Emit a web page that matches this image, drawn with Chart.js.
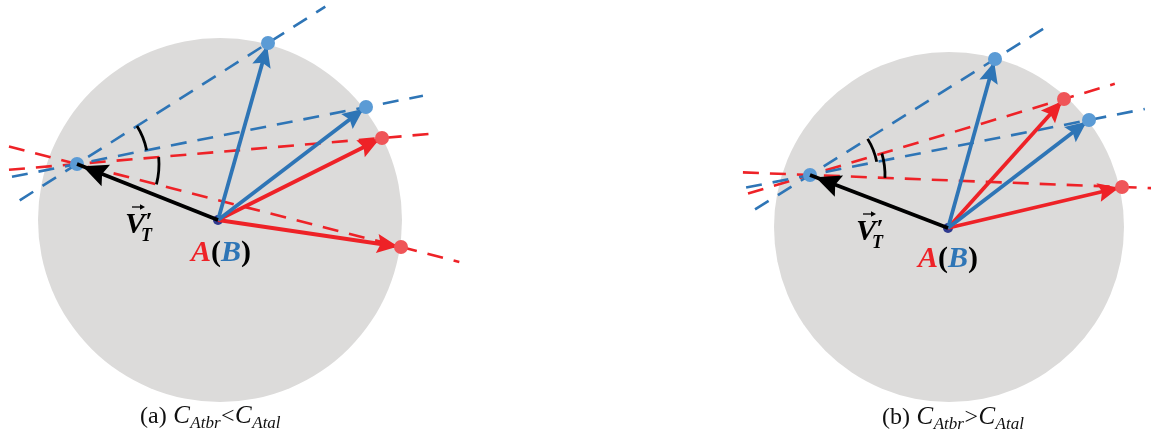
<!DOCTYPE html>
<html>
<head>
<meta charset="utf-8">
<script src="https://cdn.jsdelivr.net/npm/chart.js@4/dist/chart.umd.min.js"></script>
<style>
html,body{margin:0;padding:0;background:#ffffff;overflow:hidden}
#wrap{width:1151px;height:440px;position:relative}
</style>
</head>
<body>
<div id="wrap"><canvas id="c" width="1151" height="440"></canvas></div>
<script>
// ---------------- data ----------------
const panelTags = ['(a)', '(b)'];
const captionRel = ['<', '>'];
// point order: O (A/B origin), VT (tip of V'_T), B1, B2 (blue), A1, A2 (red)
const pointNames = ['O', 'VT', 'B1', 'B2', 'A1', 'A2'];
const panelA_x = [218, 77, 268, 366, 382, 401];
const panelA_y = [220, 164, 43, 107, 138, 247];
const panelB_x = [948, 810, 995, 1089, 1064, 1122];
const panelB_y = [228, 175, 59, 120, 99, 187];
// gray disc of each panel
const circleX = [220, 949];
const circleY = [220, 227];
const circleR = [182, 175];
// dashed guide lines through VT and each end point: extension factors (back, forward)
const rayNames = ['B1', 'B2', 'A1', 'A2'];
const dashBackA = [-0.30, -0.225, -0.223, -0.21];
const dashFwdA = [1.30, 1.197, 1.18, 1.18];
const dashBackB = [-0.297, -0.229, -0.244, -0.215];
const dashFwdB = [1.30, 1.20, 1.20, 1.20];
// angle-mark radii (blue pair, red pair)
const arcBlueR = [71, 68];
const arcRedR = [82, 75];
// label anchors
const vLabelX = [125, 856];
const vLabelY = [233, 240];
const abLabelX = [221, 948];
const abLabelY = [261, 267];
const captionX = [140, 882];
const captionY = [423, 424];

// ---------------- styles ----------------
const BLUE = '#2E75B6';
const BLUE_DOT = '#5B9BD5';
const RED = '#EE2227';
const RED_DOT = '#EF5558';
const GRAY = '#DCDBDA';
const NAVY = '#2F3A8F';
const SERIF = '"Liberation Serif", "Times New Roman", serif';

const panelsX = [panelA_x, panelB_x];
const panelsY = [panelA_y, panelB_y];
const dashBack = [dashBackA, dashBackB];
const dashFwd = [dashFwdA, dashFwdB];

function pt(p, name) {
  const i = pointNames.indexOf(name);
  return { x: panelsX[p][i], y: panelsY[p][i] };
}

const datasets = [];
for (let p = 0; p < 2; p++) {
  // disc
  datasets.push({
    type: 'bubble',
    data: [{ x: circleX[p], y: circleY[p], r: circleR[p] }],
    backgroundColor: GRAY, borderWidth: 0, hoverRadius: 0, order: 100, clip: false
  });
  const vt = pt(p, 'VT');
  const o = pt(p, 'O');
  // dashed guide lines
  rayNames.forEach((n, k) => {
    const q = pt(p, n);
    const dx = q.x - vt.x, dy = q.y - vt.y;
    const col = n[0] === 'B' ? BLUE : RED;
    datasets.push({
      type: 'scatter', showLine: true,
      data: [
        { x: vt.x + dashBack[p][k] * dx, y: vt.y + dashBack[p][k] * dy },
        { x: vt.x + dashFwd[p][k] * dx, y: vt.y + dashFwd[p][k] * dy }
      ],
      borderColor: col, borderWidth: 2.6, borderDash: [16, 11], pointRadius: 0,
      order: 60, isGuide: true
    });
  });
  // centre dot
  datasets.push({
    type: 'scatter', data: [o], pointRadius: 5, pointBackgroundColor: NAVY,
    pointBorderWidth: 0, order: 45
  });
  // arrows
  rayNames.forEach((n) => {
    const q = pt(p, n);
    const col = n[0] === 'B' ? BLUE : RED;
    datasets.push({
      type: 'scatter', showLine: true, data: [o, q],
      borderColor: col, borderWidth: 3.8, pointRadius: 0, order: 30,
      arrowHead: { len: 21, half: 9.5, offset: 3, notch: 3.5, color: col }
    });
  });
  datasets.push({
    type: 'scatter', showLine: true, data: [o, vt],
    borderColor: '#000000', borderWidth: 3.8, pointRadius: 0, order: 25,
    arrowHead: { len: 25, half: 11.5, offset: 6, notch: 4, color: '#000000' }
  });
  // end-point dots
  rayNames.forEach((n) => {
    const q = pt(p, n);
    datasets.push({
      type: 'scatter', data: [q], pointRadius: 7,
      pointBackgroundColor: n[0] === 'B' ? BLUE_DOT : RED_DOT, pointBorderWidth: 0, order: 10
    });
  });
  datasets.push({
    type: 'scatter', data: [vt], pointRadius: 7,
    pointBackgroundColor: BLUE_DOT, pointBorderWidth: 0, order: 28
  });
}

function drawHead(ctx, x0, y0, x1, y1, h) {
  const L = Math.hypot(x1 - x0, y1 - y0);
  const ux = (x1 - x0) / L, uy = (y1 - y0) / L;
  const nx = -uy, ny = ux;
  const tx = x1 - h.offset * ux, ty = y1 - h.offset * uy;
  const bx = tx - h.len * ux, by = ty - h.len * uy;
  const mx = tx - (h.len - h.notch) * ux, my = ty - (h.len - h.notch) * uy;
  ctx.save();
  ctx.fillStyle = h.color;
  ctx.beginPath();
  ctx.moveTo(tx, ty);
  ctx.lineTo(bx + h.half * nx, by + h.half * ny);
  ctx.lineTo(mx, my);
  ctx.lineTo(bx - h.half * nx, by - h.half * ny);
  ctx.closePath();
  ctx.fill();
  ctx.restore();
}

function drawCaption(ctx, x, y, tag, rel) {
  const parts = [
    { t: tag + ' ', s: '', z: 24, dy: 0 },
    { t: 'C', s: 'italic ', z: 25, dy: 0 },
    { t: 'Atbr', s: 'italic ', z: 17, dy: 5 },
    { t: rel, s: '', z: 24, dy: 0 },
    { t: 'C', s: 'italic ', z: 25, dy: 0 },
    { t: 'Atal', s: 'italic ', z: 17, dy: 5 }
  ];
  ctx.save();
  ctx.fillStyle = '#111';
  ctx.textBaseline = 'alphabetic';
  ctx.textAlign = 'left';
  let cx = x;
  parts.forEach((pp) => {
    ctx.font = pp.s + pp.z + 'px ' + SERIF;
    ctx.fillText(pp.t, cx, y + pp.dy);
    cx += ctx.measureText(pp.t).width + 0.5;
  });
  ctx.restore();
}

function drawVLabel(ctx, x, y) {
  ctx.save();
  ctx.fillStyle = '#000';
  ctx.textBaseline = 'alphabetic';
  ctx.textAlign = 'left';
  ctx.font = 'italic bold 30px ' + SERIF;
  ctx.fillText('V', x, y);
  const w = ctx.measureText('V').width;
  ctx.font = 'bold 26px ' + SERIF;
  ctx.fillText('\u2032', x + w + 0.5, y - 3);
  ctx.font = 'italic bold 18px ' + SERIF;
  ctx.fillText('T', x + w - 4, y + 8);
  // vector arrow
  ctx.strokeStyle = '#000';
  ctx.lineWidth = 1.3;
  ctx.beginPath();
  ctx.moveTo(x + 7, y - 26);
  ctx.lineTo(x + 17, y - 26);
  ctx.stroke();
  ctx.beginPath();
  ctx.moveTo(x + 20, y - 26);
  ctx.lineTo(x + 15, y - 28.7);
  ctx.lineTo(x + 15, y - 23.3);
  ctx.closePath();
  ctx.fill();
  ctx.restore();
}

function drawAB(ctx, cx, y) {
  const parts = [
    { t: 'A', s: 'italic bold ', c: RED },
    { t: '(', s: 'bold ', c: '#000' },
    { t: 'B', s: 'italic bold ', c: BLUE },
    { t: ')', s: 'bold ', c: '#000' }
  ];
  ctx.save();
  ctx.textBaseline = 'alphabetic';
  ctx.textAlign = 'left';
  let total = 0;
  parts.forEach((pp) => { ctx.font = pp.s + '30px ' + SERIF; pp.w = ctx.measureText(pp.t).width; total += pp.w; });
  let x = cx - total / 2;
  parts.forEach((pp) => {
    ctx.font = pp.s + '30px ' + SERIF;
    ctx.fillStyle = pp.c;
    ctx.fillText(pp.t, x, y);
    x += pp.w;
  });
  ctx.restore();
}

const decor = {
  id: 'decor',
  afterDatasetDraw(chart, args) {
    const ds = chart.data.datasets[args.index];
    if (!ds.arrowHead) return;
    const pts = args.meta.data;
    drawHead(chart.ctx, pts[0].x, pts[0].y, pts[1].x, pts[1].y, ds.arrowHead);
  },
  afterDatasetsDraw(chart) {
    const ctx = chart.ctx;
    const xs = chart.scales.x, ys = chart.scales.y;
    for (let p = 0; p < 2; p++) {
      const vt = pt(p, 'VT');
      const cx = xs.getPixelForValue(vt.x), cy = ys.getPixelForValue(vt.y);
      const ang = (n) => {
        const q = pt(p, n);
        return Math.atan2(ys.getPixelForValue(q.y) - cy, xs.getPixelForValue(q.x) - cx);
      };
      ctx.save();
      ctx.strokeStyle = '#000';
      ctx.lineWidth = 2.8;
      ctx.beginPath();
      ctx.arc(cx, cy, arcBlueR[p], ang('B1'), ang('B2'), false);
      ctx.stroke();
      ctx.beginPath();
      ctx.arc(cx, cy, arcRedR[p], ang('A1'), ang('A2'), false);
      ctx.stroke();
      ctx.restore();
    }
  },
  afterDraw(chart) {
    const ctx = chart.ctx;
    for (let p = 0; p < 2; p++) {
      drawVLabel(ctx, vLabelX[p], vLabelY[p]);
      drawAB(ctx, abLabelX[p], abLabelY[p]);
      drawCaption(ctx, captionX[p], captionY[p], panelTags[p], captionRel[p]);
    }
  }
};

new Chart(document.getElementById('c'), {
  type: 'scatter',
  data: { datasets },
  options: {
    responsive: false,
    devicePixelRatio: 1,
    animation: false,
    events: [],
    layout: { padding: 0, autoPadding: false },
    scales: {
      x: { type: 'linear', min: 0, max: 1151, display: false },
      y: { type: 'linear', min: 0, max: 440, reverse: true, display: false }
    },
    plugins: { legend: { display: false }, tooltip: { enabled: false } }
  },
  plugins: [decor]
});
</script>
</body>
</html>
